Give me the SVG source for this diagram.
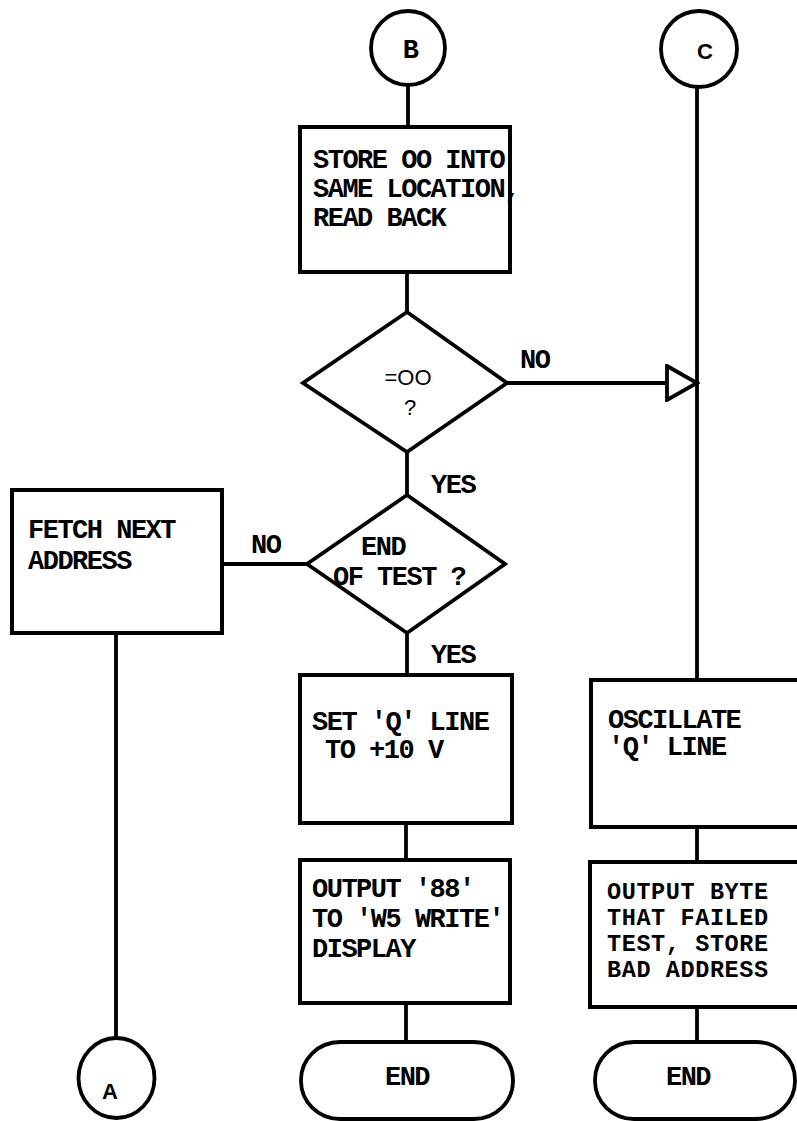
<svg xmlns="http://www.w3.org/2000/svg" width="797" height="1121" viewBox="0 0 797 1121">
<defs>
<style>
.box{fill:#fff;stroke:#000;stroke-width:4}
.shape{fill:#fff;stroke:#000;stroke-width:3.8}
.ln{fill:none;stroke:#000;stroke-width:3.8}
.t{font-family:"Liberation Mono",monospace;font-weight:bold;font-size:27px;letter-spacing:-1.5px;fill:#000}
.tc{font-family:"Liberation Mono",monospace;font-weight:bold;font-size:23.5px;letter-spacing:0.6px;fill:#000}
.s{font-family:"Liberation Sans",Arial,sans-serif;font-size:22px;fill:#000}
.sb{font-family:"Liberation Sans",Arial,sans-serif;font-weight:bold;font-size:22px;fill:#000}
</style>
<marker id="openArrow" viewBox="0 0 36 38" refX="33" refY="19" markerWidth="36" markerHeight="38" markerUnits="userSpaceOnUse" orient="auto">
<path d="M3,2 L33,19 L3,36 Z" fill="#fff" stroke="#000" stroke-width="3.8"/>
</marker>
</defs>
<rect width="797" height="1121" fill="#fff"/>

<g id="connectors">
<line class="ln" x1="408" y1="85" x2="408" y2="127"/>
<line class="ln" x1="407" y1="272" x2="407" y2="312"/>
<line class="ln" x1="407" y1="452" x2="407" y2="495"/>
<line class="ln" x1="697" y1="87" x2="697" y2="680"/>
<line class="ln" x1="507" y1="383" x2="697" y2="383" marker-end="url(#openArrow)"/>
<line class="ln" x1="307" y1="564" x2="222" y2="564"/>
<line class="ln" x1="116" y1="633" x2="116" y2="1038"/>
<line class="ln" x1="407" y1="633" x2="407" y2="675"/>
<line class="ln" x1="406" y1="823" x2="406" y2="860"/>
<line class="ln" x1="406" y1="1003" x2="406" y2="1042"/>
<line class="ln" x1="697" y1="827" x2="697" y2="862"/>
<line class="ln" x1="697" y1="1007" x2="697" y2="1042"/>
<text class="t" x="520" y="368">NO</text>
<text class="t" x="431" y="493">YES</text>
<text class="t" x="251" y="553">NO</text>
<text class="t" x="431" y="663">YES</text>
</g>

<g id="connector-B">
<circle class="shape" cx="408" cy="48" r="37"/>
<text class="t" x="410" y="58" text-anchor="middle" font-size="23" letter-spacing="0">B</text>
</g>

<g id="connector-C">
<circle class="shape" cx="699" cy="49" r="38"/>
<text class="sb" x="705" y="59" text-anchor="middle">C</text>
</g>

<g id="store-00">
<rect class="box" x="300" y="127" width="210" height="145"/>
<text class="t" x="313" y="168">STORE OO INTO</text>
<text class="t" x="313" y="197">SAME LOCATION,</text>
<text class="t" x="313" y="226">READ BACK</text>
</g>

<g id="decision-00">
<polygon class="shape" points="407,312 507,383 407,452 303,383"/>
<text class="s" x="408" y="385" text-anchor="middle">=OO</text>
<text class="s" x="410" y="415" text-anchor="middle">?</text>
</g>

<g id="decision-end-of-test">
<polygon class="shape" points="407,495 505,564 407,633 307,564"/>
<text class="t" x="361" y="555">END</text>
<text class="t" x="333" y="585">OF TEST ?</text>
</g>

<g id="fetch-next-address">
<rect class="box" x="12" y="490" width="210" height="143"/>
<text class="t" x="28" y="538">FETCH NEXT</text>
<text class="t" x="28" y="569">ADDRESS</text>
</g>

<g id="connector-A">
<ellipse class="shape" cx="116.5" cy="1078" rx="38" ry="40"/>
<text class="sb" x="110" y="1099" text-anchor="middle" font-size="25">A</text>
</g>

<g id="set-q-line">
<rect class="box" x="300" y="675" width="212" height="148"/>
<text class="t" x="312" y="730">SET 'Q' LINE</text>
<text class="t" x="325" y="758">TO +10 V</text>
</g>

<g id="output-88">
<rect class="box" x="300" y="860" width="210" height="143"/>
<text class="t" x="312" y="897">OUTPUT '88'</text>
<text class="t" x="312" y="927">TO 'W5 WRITE'</text>
<text class="t" x="312" y="957">DISPLAY</text>
</g>

<g id="end-1">
<rect class="shape" x="301" y="1042" width="212" height="77" rx="39" ry="38"/>
<text class="t" x="407" y="1085" text-anchor="middle">END</text>
</g>

<g id="oscillate-q-line">
<rect class="box" x="591" y="680" width="215" height="147"/>
<text class="t" x="608" y="728">OSCILLATE</text>
<text class="t" x="608" y="755">'Q' LINE</text>
</g>

<g id="output-byte">
<rect class="box" x="590" y="862" width="215" height="145"/>
<text class="tc" x="607" y="899">OUTPUT BYTE</text>
<text class="tc" x="607" y="925">THAT FAILED</text>
<text class="tc" x="607" y="951">TEST, STORE</text>
<text class="tc" x="607" y="977">BAD ADDRESS</text>
</g>

<g id="end-2">
<rect class="shape" x="595" y="1042" width="200" height="77" rx="39" ry="38"/>
<text class="t" x="688" y="1085" text-anchor="middle">END</text>
</g>
</svg>
